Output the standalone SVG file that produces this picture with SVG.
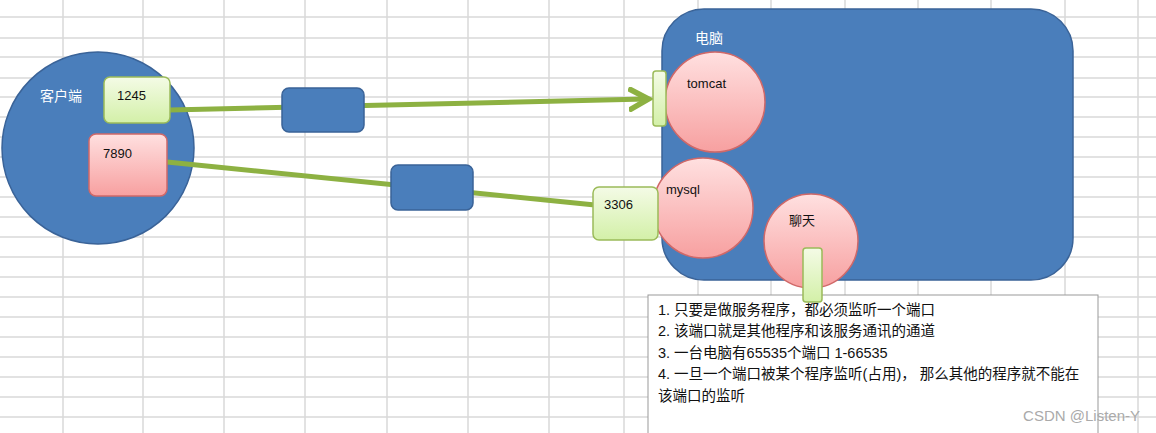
<svg xmlns="http://www.w3.org/2000/svg" width="1156" height="433" viewBox="0 0 1156 433">
<defs>
<style>
.grid line{stroke:#d9d9d9;stroke-width:1.5}
.blue{fill:#4a7ebb;stroke:#3a6398;stroke-width:1.5}
.green{fill:url(#gg);stroke:#9bbb59;stroke-width:1.5}
.red{fill:url(#rg);stroke:#d06868;stroke-width:1.5}
.conn{stroke:#8db142;stroke-width:5;fill:none}
.t{font-family:"Liberation Sans","Noto Sans CJK SC",sans-serif;font-size:13px;fill:#111}
.n{font-family:"Liberation Sans","Noto Sans CJK SC",sans-serif;font-size:14.5px;fill:#111}
.w{font-family:"Liberation Sans","Noto Sans CJK SC",sans-serif;font-size:14px;fill:#fff}
</style>
<linearGradient id="gg" x1="0" y1="0" x2="0" y2="1"><stop offset="0" stop-color="#f4fbe6"/><stop offset="1" stop-color="#d3f0a8"/></linearGradient>
<linearGradient id="rg" x1="0" y1="0" x2="0" y2="1"><stop offset="0" stop-color="#ffe0e0"/><stop offset="1" stop-color="#f7a0a0"/></linearGradient>
<marker id="ah" markerWidth="5" markerHeight="5" refX="3.5" refY="2.5" orient="auto" markerUnits="strokeWidth"><path d="M0,0.3 L4,2.5 L0,4.7" fill="none" stroke="#8db142" stroke-width="1.1"/></marker>
</defs>
<rect width="1156" height="433" fill="#fff"/>
<g class="grid">
<line x1="0" y1="17" x2="1156" y2="17"/><line x1="0" y1="38" x2="1156" y2="38"/><line x1="0" y1="57" x2="1156" y2="57"/><line x1="0" y1="78" x2="1156" y2="78"/><line x1="0" y1="97" x2="1156" y2="97"/><line x1="0" y1="117" x2="1156" y2="117"/><line x1="0" y1="137" x2="1156" y2="137"/><line x1="0" y1="157" x2="1156" y2="157"/><line x1="0" y1="177" x2="1156" y2="177"/><line x1="0" y1="197" x2="1156" y2="197"/><line x1="0" y1="217" x2="1156" y2="217"/><line x1="0" y1="237" x2="1156" y2="237"/><line x1="0" y1="257" x2="1156" y2="257"/><line x1="0" y1="277" x2="1156" y2="277"/><line x1="0" y1="297" x2="1156" y2="297"/><line x1="0" y1="317" x2="1156" y2="317"/><line x1="0" y1="337" x2="1156" y2="337"/><line x1="0" y1="357" x2="1156" y2="357"/><line x1="0" y1="377" x2="1156" y2="377"/><line x1="0" y1="397" x2="1156" y2="397"/><line x1="0" y1="417" x2="1156" y2="417"/>
<line x1="63" y1="0" x2="63" y2="433"/><line x1="143" y1="0" x2="143" y2="433"/><line x1="224" y1="0" x2="224" y2="433"/><line x1="305" y1="0" x2="305" y2="433"/><line x1="387" y1="0" x2="387" y2="433"/><line x1="468" y1="0" x2="468" y2="433"/><line x1="549" y1="0" x2="549" y2="433"/><line x1="624" y1="0" x2="624" y2="433"/><line x1="698" y1="0" x2="698" y2="433"/><line x1="771" y1="0" x2="771" y2="433"/><line x1="845" y1="0" x2="845" y2="433"/><line x1="918" y1="0" x2="918" y2="433"/><line x1="991" y1="0" x2="991" y2="433"/><line x1="1065" y1="0" x2="1065" y2="433"/><line x1="1138" y1="0" x2="1138" y2="433"/>
</g>
<g id="client"><circle class="blue" cx="98" cy="148" r="96"/><text class="w" x="40" y="101">客户端</text></g>
<g id="computer"><rect class="blue" x="662" y="9" width="411" height="271" rx="42"/><text class="w" x="695" y="43">电脑</text></g>
<g id="connectors">
<line class="conn" x1="170" y1="110" x2="646" y2="99" marker-end="url(#ah)"/>
<line class="conn" x1="167" y1="162" x2="595" y2="205"/>
</g>
<g id="pipe1"><rect class="blue" x="282" y="88" width="82" height="44" rx="7"/></g>
<g id="pipe2"><rect class="blue" x="391" y="165" width="82" height="45" rx="7"/></g>
<g id="p1245"><rect class="green" x="104" y="77" width="66" height="46" rx="6"/><text class="t" x="117" y="100">1245</text></g>
<g id="p7890"><rect class="red" x="89" y="134" width="78" height="62" rx="7"/><text class="t" x="103" y="158">7890</text></g>
<g id="tomcat"><circle class="red" cx="715" cy="102" r="50"/><text class="t" x="687" y="88">tomcat</text></g>
<g id="tomcatport"><rect class="green" x="653" y="71" width="13" height="55" rx="3"/></g>
<g id="mysql"><circle class="red" cx="703" cy="208" r="50"/><text class="t" x="666" y="194">mysql</text></g>
<g id="p3306"><rect class="green" x="593" y="187" width="65" height="53" rx="6"/><text class="t" x="604" y="209">3306</text></g>
<g id="chat"><circle class="red" cx="811" cy="241" r="47"/><text class="t" x="789" y="225">聊天</text></g>
<g id="notes">
<rect x="648" y="295" width="450" height="145" fill="#fff" stroke="#999" stroke-width="1"/>
<text class="n" x="658" y="315">1. 只要是做服务程序，都必须监听一个端口</text>
<text class="n" x="658" y="336">2. 该端口就是其他程序和该服务通讯的通道</text>
<text class="n" x="658" y="358">3. 一台电脑有65535个端口 1-66535</text>
<text class="n" x="658" y="379">4. 一旦一个端口被某个程序监听(占用)， 那么其他的程序就不能在</text>
<text class="n" x="658" y="401">该端口的监听</text>
</g>
<g id="chatport"><rect class="green" x="803" y="248" width="19" height="54" rx="3"/></g>
<text x="1140" y="421" text-anchor="end" style="font-family:'Liberation Sans',sans-serif;font-size:15px;fill:#aaa">CSDN @Listen-Y</text>
</svg>
